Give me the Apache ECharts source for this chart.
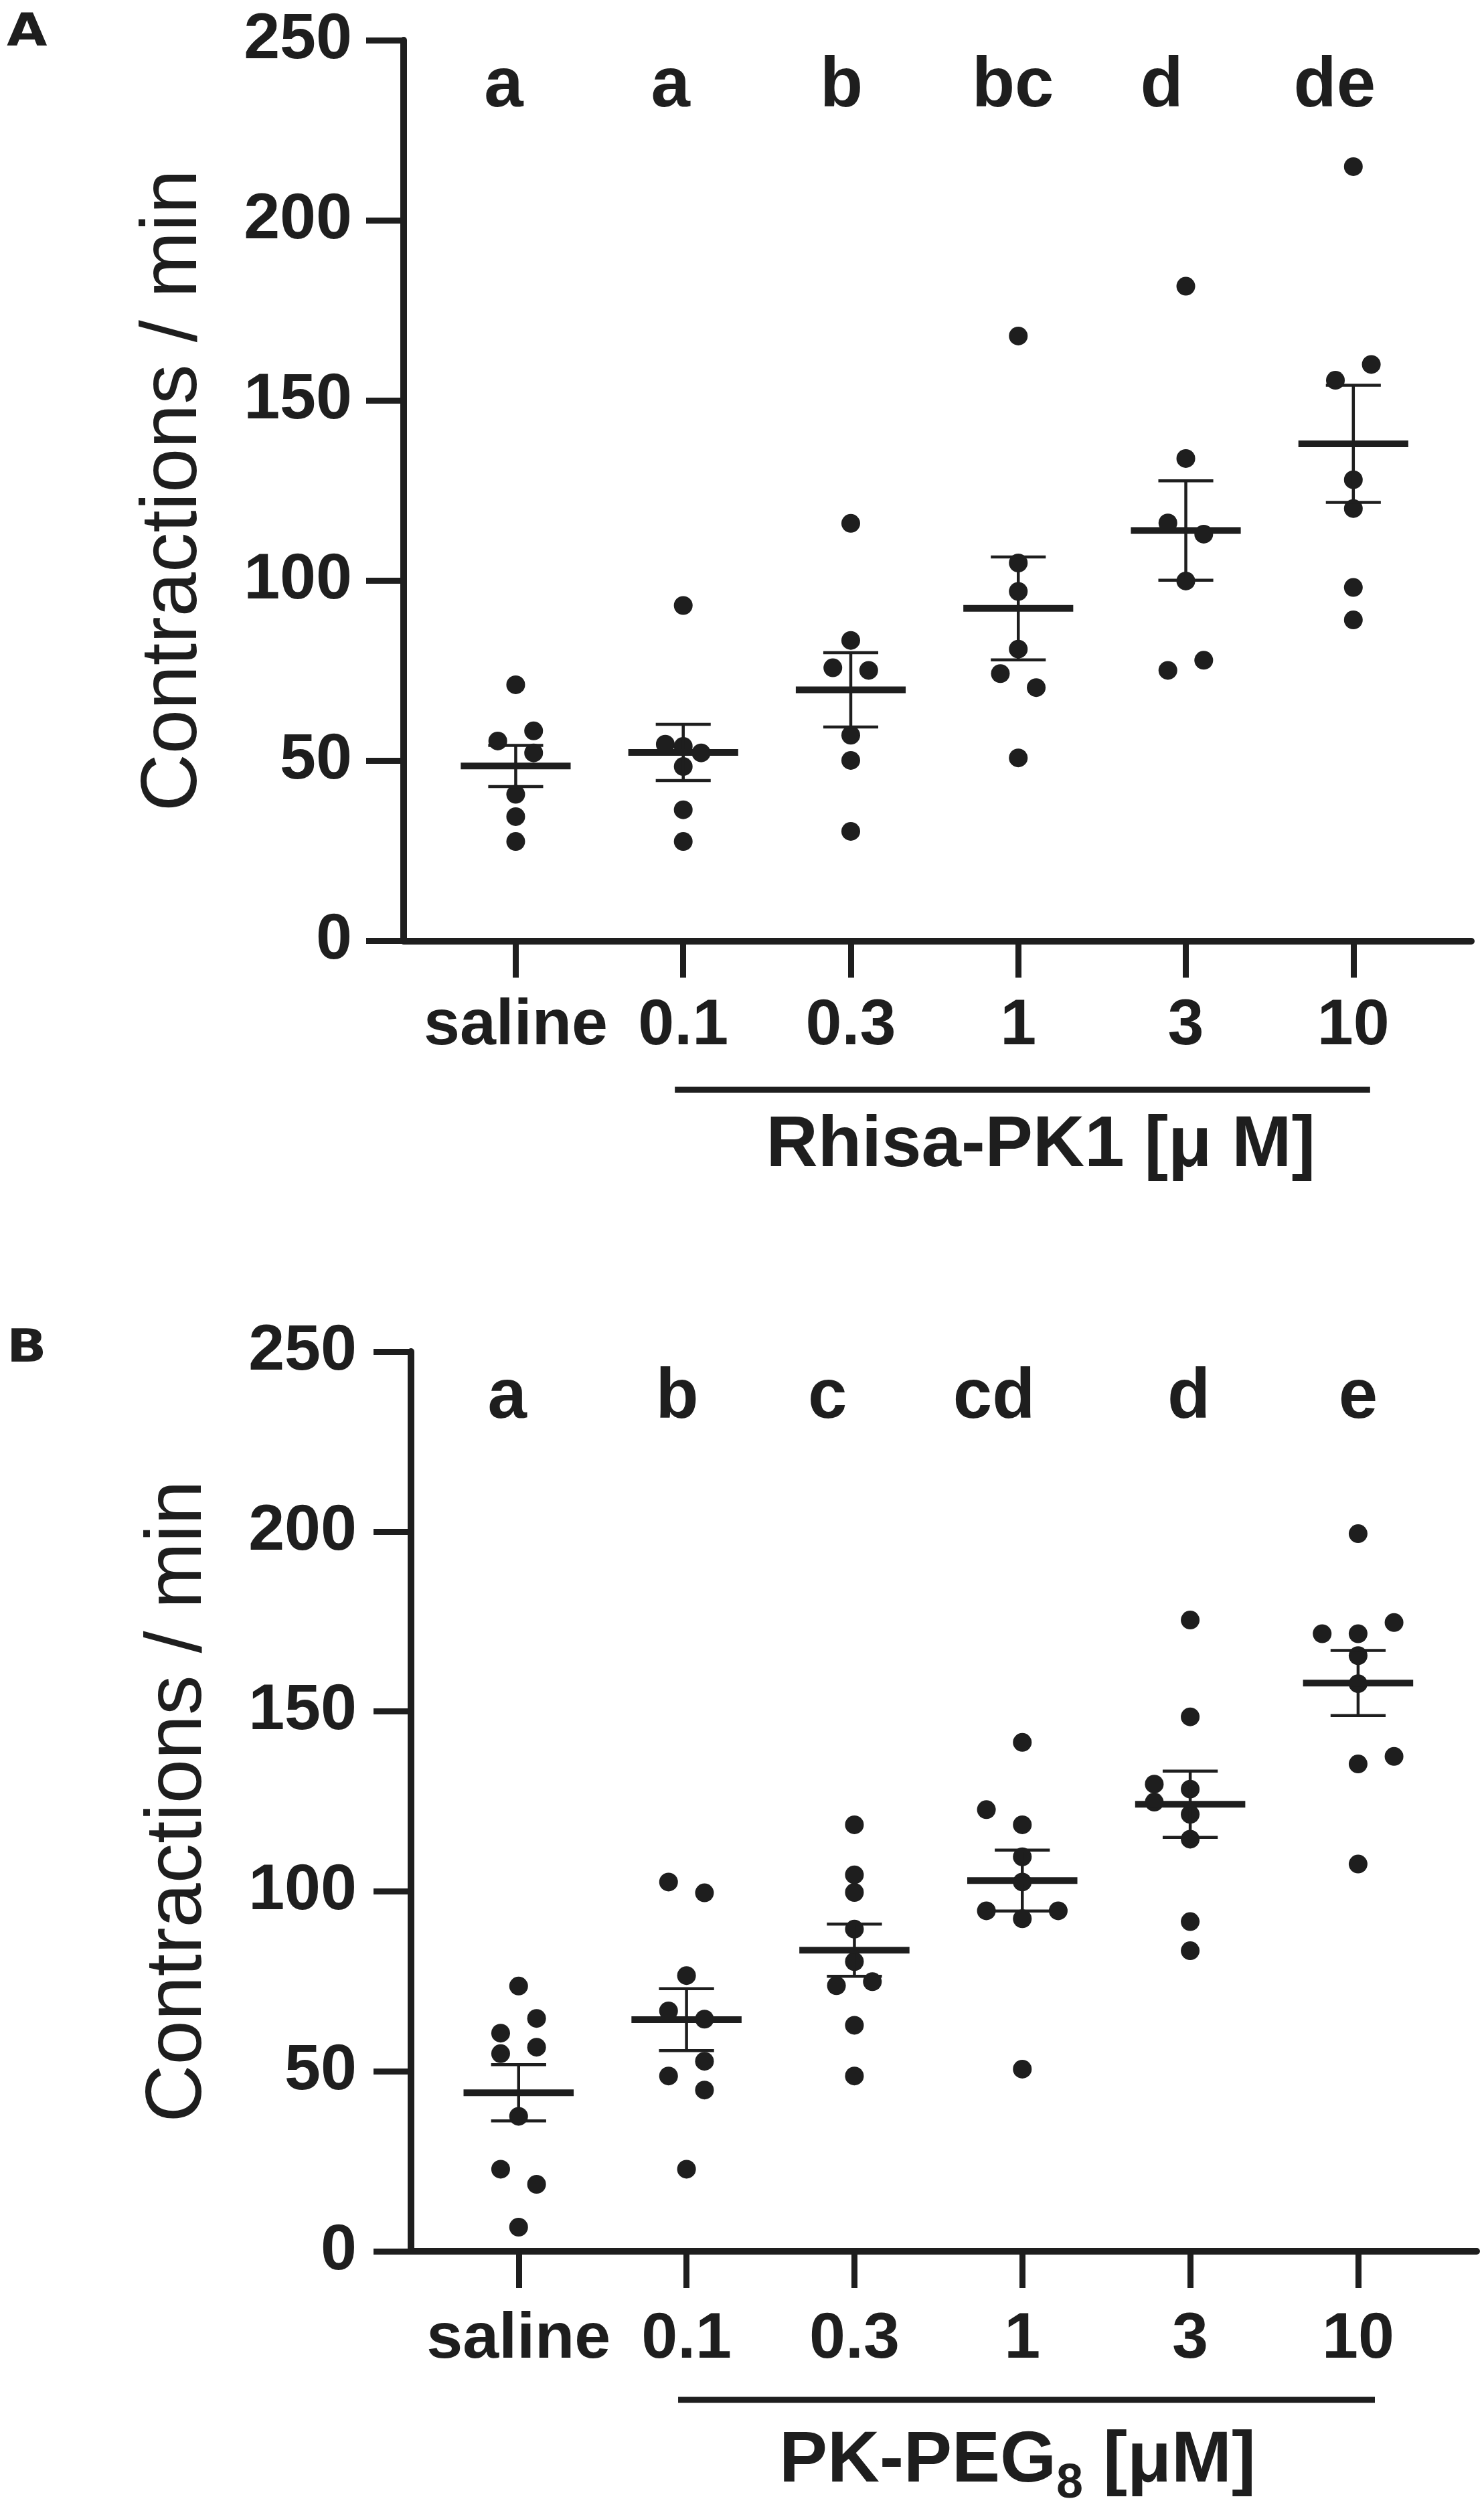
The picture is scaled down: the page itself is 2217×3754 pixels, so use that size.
<!DOCTYPE html>
<html>
<head>
<meta charset="utf-8">
<script src="https://cdn.jsdelivr.net/npm/echarts@6/dist/echarts.min.js"></script>
<style>
html,body{margin:0;padding:0;background:#ffffff;}
#chart{width:2217px;height:3754px;}
</style>
</head>
<body>
<div id="chart"></div>
<script>
// ---------------- data ----------------
const categories = ['saline', '0.1', '0.3', '1', '3', '10'];
const yTickValues = [0, 50, 100, 150, 200, 250];
const categoryTicks = [0, 1, 2, 3, 4, 5];

// Panel A: Rhisa-PK1 (contractions / min)
const rhisaSaline = [71.1, 58.3, 55.5, 52.2, 40.7, 34.5, 27.6];
const rhisa0_1   = [93.1, 54.6, 54.0, 52.2, 48.4, 36.4, 27.6];
const rhisa0_3   = [115.9, 83.4, 75.8, 75.1, 57.1, 50.1, 30.4];
const rhisa1     = [167.9, 104.9, 97.0, 81.0, 74.2, 70.3, 50.8];
const rhisa3     = [181.7, 133.9, 116.0, 112.9, 99.9, 77.9, 75.1];
const rhisa10    = [214.9, 160.0, 155.6, 128.0, 120.0, 98.1, 89.1];
const rhisaLetters = ['a', 'a', 'b', 'bc', 'd', 'de'];

// Panel B: PK-PEG8 (contractions / min)
const pegSaline = [73.7, 64.7, 60.6, 56.7, 54.9, 37.5, 22.8, 18.6, 6.7];
const peg0_1    = [102.6, 99.6, 76.6, 66.8, 64.5, 52.8, 48.7, 44.8, 22.8];
const peg0_3    = [118.5, 104.6, 99.7, 89.5, 80.5, 74.9, 73.8, 62.8, 48.7];
const peg1      = [141.4, 122.7, 118.5, 109.6, 102.6, 94.6, 94.6, 92.4, 50.6];
const peg3      = [175.4, 148.5, 129.8, 128.4, 124.8, 121.4, 114.5, 91.6, 83.5];
const peg10     = [199.4, 174.7, 171.6, 171.6, 165.5, 157.7, 137.5, 135.4, 107.6];
const pegLetters = ['a', 'b', 'c', 'cd', 'd', 'e'];

// ---------------- layout (not data) ----------------
// horizontal spreading slot of each dot in the scatter dot plot
const slotsA = [[0,1,-1,1,0,0,0],[0,-1,0,1,0,0,0],[0,0,-1,1,0,0,0],[0,0,0,0,-1,1,0],[0,0,-1,1,0,1,-1],[0,1,-1,0,0,0,0]];
const slotsB = [[0,1,-1,1,-1,0,-1,1,0],[-1,1,0,-1,1,1,-1,1,0],[0,0,0,0,0,1,-1,0,0],[0,-2,0,0,0,-2,2,0,0],[0,0,-2,0,-2,0,0,0,0],[0,2,-2,0,0,0,2,0,0]];
const letterNudgeA = [-0.072, -0.076, -0.056, -0.032, -0.144, -0.112];
const letterNudgeB = [-0.068, -0.056, -0.16, -0.168, -0.008, 0];

const INK = '#1e1e1e';
const FONT = '"Liberation Sans", Arial, Helvetica, sans-serif';
const SLOT = 0.107, MEAN_HALF = 0.328, CAP_HALF = 0.164;

const panels = [
  { groups: [rhisaSaline, rhisa0_1, rhisa0_3, rhisa1, rhisa3, rhisa10], slots: slotsA,
    letters: rhisaLetters, nudge: letterNudgeA,
    grid: { left: 603, top: 60, width: 1595, height: 1345.6 },
    xMin: -0.669, xMax: 5.704, labelMargin: 79, yLabelMargin: 77, nameGap: 283,
    titleX: 3.134, titleY: -57.0 },
  { groups: [pegSaline, peg0_1, peg0_3, peg1, peg3, peg10], slots: slotsB,
    letters: pegLetters, nudge: letterNudgeB,
    grid: { left: 614, top: 2019, width: 1592, height: 1344 },
    xMin: -0.641, xMax: 5.706, labelMargin: 84, yLabelMargin: 81, nameGap: 287,
    titleX: 2.971, titleY: -58.4 }
];

function mean(a) { return a.reduce((s, v) => s + v, 0) / a.length; }
function sem(a) {
  const m = mean(a);
  const v = a.reduce((s, x) => s + (x - m) * (x - m), 0) / (a.length - 1);
  return Math.sqrt(v / a.length);
}

const grids = [], xAxes = [], yAxes = [], series = [];

panels.forEach((p, k) => {
  grids.push(Object.assign({ containLabel: false, outerBoundsMode: 'none' }, p.grid));
  xAxes.push({
    type: 'value', gridIndex: k, min: p.xMin, max: p.xMax,
    splitLine: { show: false },
    axisLine: { show: true, onZero: false, lineStyle: { color: INK, width: 10 } },
    axisTick: { show: true, customValues: categoryTicks, length: 55, lineStyle: { color: INK, width: 9 } },
    axisLabel: {
      show: true, customValues: categoryTicks, margin: p.labelMargin,
      formatter: v => categories[Math.round(v)],
      fontSize: 97, fontWeight: 'bold', fontFamily: FONT, color: INK, lineHeight: 97
    }
  });
  yAxes.push({
    type: 'value', gridIndex: k, min: 0, max: 250, interval: 50,
    splitLine: { show: false },
    axisLine: { show: true, onZero: false, lineStyle: { color: INK, width: 10 } },
    axisTick: { show: true, length: 56, lineStyle: { color: INK, width: 9 } },
    axisLabel: { margin: p.yLabelMargin, fontSize: 97, fontWeight: 'bold', fontFamily: FONT, color: INK },
    name: 'Contractions / min', nameLocation: 'middle', nameGap: p.nameGap,
    nameTextStyle: { fontSize: 119, lineHeight: 119, fontFamily: FONT, fontWeight: 'normal', color: INK }
  });

  // individual animals
  const dots = [];
  p.groups.forEach((g, i) => g.forEach((v, j) => dots.push([i + p.slots[i][j] * SLOT, v])));
  series.push({
    type: 'scatter', xAxisIndex: k, yAxisIndex: k, data: dots,
    symbol: 'circle', symbolSize: 28, itemStyle: { color: INK, opacity: 1 },
    silent: true, z: 3
  });

  // mean ± SEM
  const stats = p.groups.map((g, i) => { const m = mean(g), s = sem(g); return [i, m, m - s, m + s]; });
  series.push({
    type: 'custom', xAxisIndex: k, yAxisIndex: k, data: stats, z: 4, silent: true,
    encode: { x: 0, y: 1 },
    renderItem: (params, api) => {
      const x = api.value(0);
      const pm = api.coord([x, api.value(1)]);
      const lo = api.coord([x, api.value(2)]);
      const hi = api.coord([x, api.value(3)]);
      const unit = api.size([1, 0])[0];
      const thin = { stroke: INK, lineWidth: 4.5 };
      return { type: 'group', children: [
        { type: 'line', shape: { x1: pm[0], y1: hi[1], x2: pm[0], y2: lo[1] }, style: thin },
        { type: 'line', shape: { x1: pm[0] - CAP_HALF * unit, y1: hi[1], x2: pm[0] + CAP_HALF * unit, y2: hi[1] }, style: thin },
        { type: 'line', shape: { x1: pm[0] - CAP_HALF * unit, y1: lo[1], x2: pm[0] + CAP_HALF * unit, y2: lo[1] }, style: thin },
        { type: 'line', shape: { x1: pm[0] - MEAN_HALF * unit, y1: pm[1], x2: pm[0] + MEAN_HALF * unit, y2: pm[1] }, style: { stroke: INK, lineWidth: 10 } }
      ]};
    }
  });

  // significance letters
  series.push({
    type: 'custom', xAxisIndex: k, yAxisIndex: k, silent: true, z: 5,
    data: p.letters.map((t, i) => [i + p.nudge[i], 237, t]),
    encode: { x: 0, y: 1 },
    renderItem: (params, api) => {
      const c = api.coord([api.value(0), api.value(1)]);
      return { type: 'text', x: c[0], y: c[1], style: {
        text: p.letters[params.dataIndex], fill: INK, align: 'center', verticalAlign: 'middle',
        fontSize: 105, fontWeight: 'bold', fontFamily: FONT
      }};
    }
  });
});

const chart = echarts.init(document.getElementById('chart'), null, { renderer: 'canvas', width: 2217, height: 3754 });
chart.setOption({
  animation: false,
  backgroundColor: '#ffffff',
  grid: grids, xAxis: xAxes, yAxis: yAxes, series: series
});

// group bars, group titles and panel letters
const graphics = [];
panels.forEach((p, k) => {
  const a = chart.convertToPixel({ gridIndex: k }, [0.95, -41.3]);
  const b = chart.convertToPixel({ gridIndex: k }, [5.1, -41.3]);
  graphics.push({ type: 'line', shape: { x1: a[0], y1: a[1], x2: b[0], y2: b[1] }, style: { stroke: INK, lineWidth: 9 } });
  const t = chart.convertToPixel({ gridIndex: k }, [p.titleX, p.titleY]);
  if (k === 0) {
    graphics.push({ type: 'text', x: t[0], y: t[1], style: {
      text: 'Rhisa-PK1 [\u03bc M]', fill: INK, align: 'center', verticalAlign: 'middle',
      fontSize: 107, fontWeight: 'bold', fontFamily: FONT, lineHeight: 107 } });
  } else {
    graphics.push({ type: 'text', x: t[0], y: t[1], style: {
      text: '{m|PK-PEG}{s|8}{m| [\u03bcM]}', fill: INK, align: 'center', verticalAlign: 'middle',
      rich: {
        m: { fontSize: 108, fontWeight: 'bold', fontFamily: FONT, lineHeight: 140, fill: INK },
        s: { fontSize: 72, fontWeight: 'bold', fontFamily: FONT, lineHeight: 72, verticalAlign: 'bottom', fill: INK }
      } } });
  }
});
graphics.push({ type: 'text', x: 10, y: 16, scaleX: 1.15, style: { text: 'A', fill: INK, fontSize: 68, fontWeight: 'bold', fontFamily: '"DejaVu Sans", sans-serif', verticalAlign: 'top', lineHeight: 68 } });
graphics.push({ type: 'text', x: 10, y: 1982, scaleX: 1.15, style: { text: 'B', fill: INK, fontSize: 68, fontWeight: 'bold', fontFamily: '"DejaVu Sans", sans-serif', verticalAlign: 'top', lineHeight: 68 } });
chart.setOption({ graphic: graphics });
</script>
</body>
</html>
